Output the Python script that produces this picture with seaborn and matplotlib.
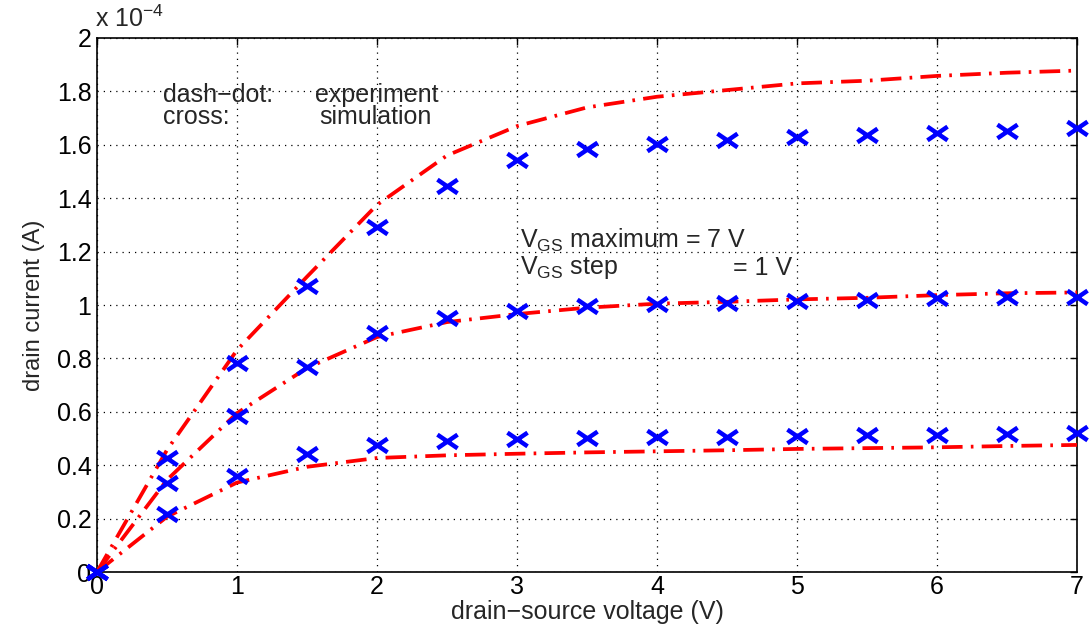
import matplotlib
matplotlib.use("Agg")
import matplotlib.pyplot as plt
from matplotlib.path import Path
import seaborn as sns
import numpy as np
import pandas as pd

# drain-source voltage samples (V)
vds = [0, 0.5, 1, 1.5, 2, 2.5, 3, 3.5, 4, 4.5, 5, 5.5, 6, 6.5, 7]

# measured drain current (x 1e-4 A), one curve per gate voltage
exp_high = [0, 0.457, 0.831, 1.106, 1.375, 1.56, 1.67, 1.74, 1.78, 1.805, 1.83, 1.84, 1.858, 1.87, 1.878]
exp_mid = [0, 0.345, 0.595, 0.764, 0.88, 0.936, 0.966, 0.99, 1.005, 1.012, 1.021, 1.027, 1.037, 1.044, 1.047]
exp_low = [0, 0.207, 0.335, 0.394, 0.427, 0.437, 0.443, 0.448, 0.452, 0.456, 0.461, 0.464, 0.467, 0.472, 0.476]

# simulated drain current (x 1e-4 A)
sim_high = [0, 0.427, 0.784, 1.072, 1.292, 1.446, 1.542, 1.583, 1.603, 1.618, 1.630, 1.637, 1.646, 1.653, 1.662]
sim_mid = [0, 0.332, 0.585, 0.769, 0.894, 0.951, 0.978, 0.996, 1.004, 1.008, 1.014, 1.019, 1.025, 1.029, 1.031]
sim_low = [0, 0.216, 0.360, 0.442, 0.476, 0.490, 0.498, 0.502, 0.506, 0.507, 0.511, 0.513, 0.513, 0.517, 0.519]

y_ticks = [0, 0.2, 0.4, 0.6, 0.8, 1, 1.2, 1.4, 1.6, 1.8, 2]
x_ticks = [0, 1, 2, 3, 4, 5, 6, 7]
scale = 1e-4

sns.set_style("white")
plt.rcParams['font.family'] = ['Liberation Sans', 'DejaVu Sans']
plt.rcParams['mathtext.fontset'] = 'custom'
plt.rcParams['mathtext.rm'] = 'Liberation Sans'
plt.rcParams['mathtext.it'] = 'Liberation Sans'

FS = 18

fig = plt.figure(figsize=(10.92, 6.27), dpi=100)
ax = fig.add_axes([0.0888, 0.0877, 0.8975, 0.8517])

# a cross that is a little wider than it is tall
cross = Path([(-1, -0.68), (1, 0.68), (-1, 0.68), (1, -0.68)],
             [Path.MOVETO, Path.LINETO, Path.MOVETO, Path.LINETO])

dashdot = (0, (5.5, 2.2, 0.7, 2.2))
for curve in (exp_high, exp_mid, exp_low):
    df = pd.DataFrame({"vds": vds, "id": np.array(curve) * scale})
    sns.lineplot(data=df, x="vds", y="id", ax=ax, color="#ff0000",
                 linewidth=2.7, linestyle=dashdot, zorder=3)

for curve in (sim_high, sim_mid, sim_low):
    df = pd.DataFrame({"vds": vds, "id": np.array(curve) * scale})
    sns.scatterplot(data=df, x="vds", y="id", ax=ax, marker=cross, s=210,
                    color="#0000ff", edgecolor="#0000ff", linewidth=3.2,
                    zorder=4, clip_on=False)

ax.set_xlim(0, 7)
ax.set_ylim(0, 2 * scale)
ax.set_xticks(x_ticks)
ax.set_xticklabels([str(t) for t in x_ticks])
ax.set_yticks([t * scale for t in y_ticks])
ax.set_yticklabels([("%g" % t) for t in y_ticks])
ax.tick_params(direction="in", length=5, width=1, top=True, right=True,
               labelsize=FS, colors="black", pad=4)
ax.tick_params(axis="x", pad=2)
for sp in ax.spines.values():
    sp.set_visible(True)
    sp.set_color("black")
    sp.set_linewidth(1.2)
ax.grid(True, linestyle=(0, (1, 4)), color="black", linewidth=0.9)

ax.set_xlabel("drain\u2212source voltage (V)", fontsize=FS, labelpad=1)
ax.set_ylabel("drain current (A)", fontsize=17, labelpad=8)

ax.text(-0.002, 1.012, r"x 10$^{-4}$", transform=ax.transAxes, fontsize=FS,
        ha="left", va="bottom")

ax.text(0.47, 1.787 * scale, "dash\u2212dot:", fontsize=FS, va="center")
ax.text(1.557, 1.787 * scale, "experiment", fontsize=FS, va="center")
ax.text(0.47, 1.704 * scale, "cross:", fontsize=FS, va="center")
ax.text(1.59, 1.704 * scale, "simulation", fontsize=FS, va="center")

ax.text(3.02, 1.243 * scale, r"V$_{\mathrm{GS}}$ maximum = 7 V", fontsize=FS, va="center")
ax.text(3.02, 1.139 * scale, r"V$_{\mathrm{GS}}$ step", fontsize=FS, va="center")
ax.text(4.54, 1.139 * scale, "= 1 V", fontsize=FS, va="center")

fig.savefig("out.png", dpi=100)
